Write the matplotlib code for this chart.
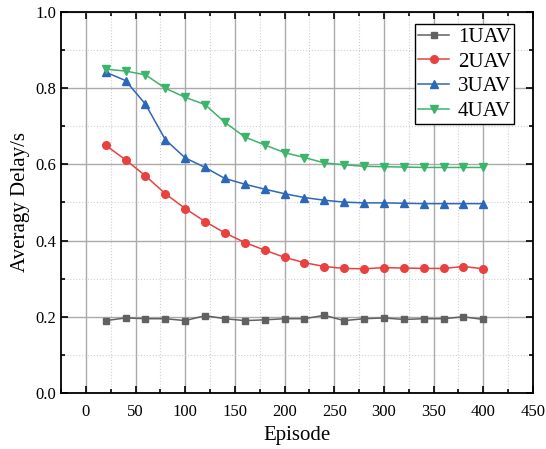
import numpy as np
import matplotlib
matplotlib.use('Agg')
import matplotlib.pyplot as plt
from matplotlib.ticker import MultipleLocator

episodes = list(range(20, 401, 20))
uav1 = [0.190, 0.197, 0.195, 0.195, 0.190, 0.203, 0.195, 0.190, 0.192, 0.195,
        0.195, 0.204, 0.190, 0.195, 0.197, 0.193, 0.195, 0.195, 0.200, 0.193]
uav2 = [0.650, 0.612, 0.570, 0.523, 0.484, 0.450, 0.420, 0.395, 0.375, 0.356,
        0.342, 0.332, 0.327, 0.326, 0.329, 0.328, 0.327, 0.327, 0.332, 0.326]
uav3 = [0.842, 0.820, 0.758, 0.665, 0.617, 0.592, 0.563, 0.548, 0.535, 0.523,
        0.513, 0.506, 0.501, 0.499, 0.499, 0.498, 0.497, 0.497, 0.497, 0.497]
uav4 = [0.850, 0.845, 0.835, 0.800, 0.776, 0.757, 0.710, 0.672, 0.651, 0.631,
        0.618, 0.604, 0.599, 0.595, 0.594, 0.593, 0.592, 0.592, 0.592, 0.592]
labels = ['1UAV', '2UAV', '3UAV', '4UAV']

plt.rcParams['font.family'] = ['Liberation Serif', 'DejaVu Serif']

fig = plt.figure(figsize=(5.46, 4.49), dpi=100)
ax = fig.add_axes([61/546, 1-393/449, 472/546, 381/449])

styles = [('#616161', 's', 5), ('#e8413f', 'o', 5.5), ('#2d67b8', '^', 6), ('#3cb46b', 'v', 6)]
for y, lab, (c, m, ms) in zip([uav1, uav2, uav3, uav4], labels, styles):
    ax.plot(episodes, y, color=c, marker=m, markersize=ms, linewidth=1.1, label=lab, zorder=3)

ax.set_xlim(-25, 450)
ax.set_ylim(0, 1.0)
ax.xaxis.set_minor_locator(MultipleLocator(25))
ax.yaxis.set_minor_locator(MultipleLocator(0.1))
ax.set_xticks(range(0, 451, 50))
ax.set_yticks(np.arange(0, 1.01, 0.2))
ax.set_yticklabels(['%.1f' % v for v in np.arange(0, 1.01, 0.2)])

ax.grid(which='major', color='#aaaaaa', linewidth=1.0, linestyle='-')
ax.grid(which='minor', color='#d0d0d0', linewidth=0.8, linestyle=':')
ax.set_axisbelow(True)

ax.tick_params(which='both', direction='in', top=True, right=True, labelsize=12, width=1.2)
ax.tick_params(which='major', length=5)
ax.tick_params(which='minor', length=3)
ax.tick_params(axis='x', pad=8)
for s in ax.spines.values():
    s.set_linewidth(1.3)

ax.set_xlabel('Episode', fontsize=15)
ax.set_ylabel('Averagy Delay/s', fontsize=15)

leg = ax.legend(loc='upper right', fontsize=15, frameon=True, fancybox=False,
                edgecolor='black', framealpha=1, handlelength=1.5,
                borderpad=0.15, labelspacing=0.25, handletextpad=0.4,
                borderaxespad=0, bbox_to_anchor=(0.96, 0.968))
leg.get_frame().set_linewidth(1.0)

fig.savefig('out.png', dpi=100)
